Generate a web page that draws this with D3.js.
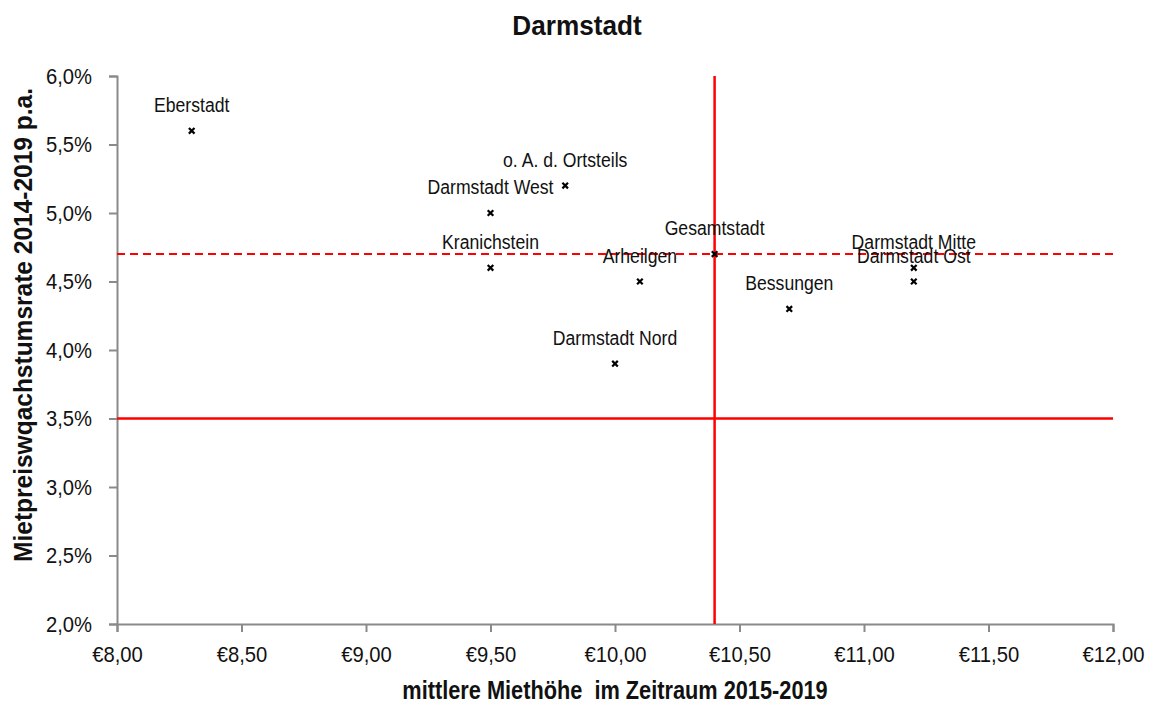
<!DOCTYPE html>
<html>
<head>
<meta charset="utf-8">
<script src="https://cdn.jsdelivr.net/npm/d3@7"></script>
<style>
  body { margin: 0; background: #fff; }
  svg text { font-family: "Liberation Sans", Arial, sans-serif; fill: #111; }
</style>
</head>
<body>
<svg id="chart" width="1154" height="709"></svg>
<script>
// Districts of Darmstadt: mean rent (€/m²) vs. annual rent growth
const districts = ["Eberstadt", "o. A. d. Ortsteils", "Darmstadt West", "Kranichstein", "Arheilgen",
                   "Darmstadt Nord", "Gesamtstadt", "Bessungen", "Darmstadt Mitte", "Darmstadt Ost"];
const rent   = [8.30, 9.80, 9.50, 9.50, 10.10, 10.00, 10.40, 10.70, 11.20, 11.20];
const growth = [0.056, 0.052, 0.050, 0.046, 0.045, 0.039, 0.047, 0.043, 0.046, 0.045];

const xTicks = [8, 8.5, 9, 9.5, 10, 10.5, 11, 11.5, 12];
const yTicks = [0.02, 0.025, 0.03, 0.035, 0.04, 0.045, 0.05, 0.055, 0.06];

// Reference lines: city-wide rent, city-wide growth, growth threshold
const cityRent = 10.40;
const cityGrowth = 0.047;
const growthThreshold = 0.035;

const svg = d3.select("#chart");
const margin = { left: 117, right: 41, top: 76, bottom: 85 };
const W = 1154, H = 709;

const x = d3.scaleLinear().domain([8, 12]).range([margin.left, W - margin.right]);
const y = d3.scaleLinear().domain([0.02, 0.06]).range([H - margin.bottom, margin.top]);

const fmtEuro = v => "€" + d3.format(".2f")(v).replace(".", ",");
const fmtPct = v => d3.format(".1f")(v * 100).replace(".", ",") + "%";

// Condense text horizontally (narrow type face look) around its anchor point
function condense(sel, s) {
  sel.each(function () {
    const t = d3.select(this);
    const tx = +t.attr("x") || 0, ty = +t.attr("y") || 0;
    const prev = t.attr("transform") || "";
    t.attr("x", 0).attr("y", 0)
     .attr("transform", `${prev} translate(${tx},${ty}) scale(${s},1)`);
  });
}

// Axes
const xAxis = svg.append("g")
  .attr("transform", `translate(0,${y(0.02)})`)
  .call(d3.axisBottom(x).tickValues(xTicks).tickFormat(fmtEuro).tickSizeOuter(0).tickSize(8).tickPadding(14));
const yAxis = svg.append("g")
  .attr("transform", `translate(${x(8)},0)`)
  .call(d3.axisLeft(y).tickValues(yTicks).tickFormat(fmtPct).tickSizeOuter(0).tickSize(8).tickPadding(17));

[xAxis, yAxis].forEach(g => {
  g.selectAll("path, line").attr("stroke", "#8a8a8a").attr("stroke-width", 2);
  g.selectAll("text").attr("fill", "#111").style("font-size", "22px");
  condense(g.selectAll("text"), 0.92);
});

// Reference lines
svg.append("line")
  .attr("x1", x(8)).attr("x2", x(12))
  .attr("y1", y(growthThreshold)).attr("y2", y(growthThreshold))
  .attr("stroke", "#ff0000").attr("stroke-width", 2.5);
svg.append("line")
  .attr("x1", x(8)).attr("x2", x(12))
  .attr("y1", y(cityGrowth)).attr("y2", y(cityGrowth))
  .attr("stroke", "#ff0000").attr("stroke-width", 2).attr("stroke-dasharray", "8,5");
svg.append("line")
  .attr("x1", x(cityRent)).attr("x2", x(cityRent))
  .attr("y1", y(0.06)).attr("y2", y(0.02))
  .attr("stroke", "#ff0000").attr("stroke-width", 2.5);

// Points as small x marks
svg.append("g").selectAll("path").data(districts).join("path")
  .attr("transform", (d, i) => `translate(${x(rent[i])},${y(growth[i])})`)
  .attr("d", "M-2.8,-2.8L2.8,2.8M-2.8,2.8L2.8,-2.8")
  .attr("stroke", "#000").attr("stroke-width", 2.2);

// Labels centred above each point
const labels = svg.append("g").selectAll("text").data(districts).join("text")
  .attr("x", (d, i) => x(rent[i]))
  .attr("y", (d, i) => y(growth[i]) - 19)
  .attr("text-anchor", "middle")
  .style("font-size", "21px")
  .text(d => d);
condense(labels, 0.84);

// Title and axis titles
const title = svg.append("text")
  .attr("x", 577).attr("y", 35)
  .attr("text-anchor", "middle")
  .style("font-size", "27px").style("font-weight", "bold")
  .text("Darmstadt");
condense(title, 0.97);

const xTitle = svg.append("text")
  .attr("x", (x(8) + x(12)) / 2).attr("y", 699)
  .attr("text-anchor", "middle")
  .style("font-size", "25px").style("font-weight", "bold")
  .style("white-space", "pre")
  .text("mittlere Miethöhe  im Zeitraum 2015-2019");
condense(xTitle, 0.87);

svg.append("text")
  .attr("transform", `translate(32,325) rotate(-90) scale(0.98,1)`)
  .attr("text-anchor", "middle")
  .style("font-size", "25px").style("font-weight", "bold")
  .text("Mietpreiswqachstumsrate 2014-2019 p.a.");
</script>
</body>
</html>
